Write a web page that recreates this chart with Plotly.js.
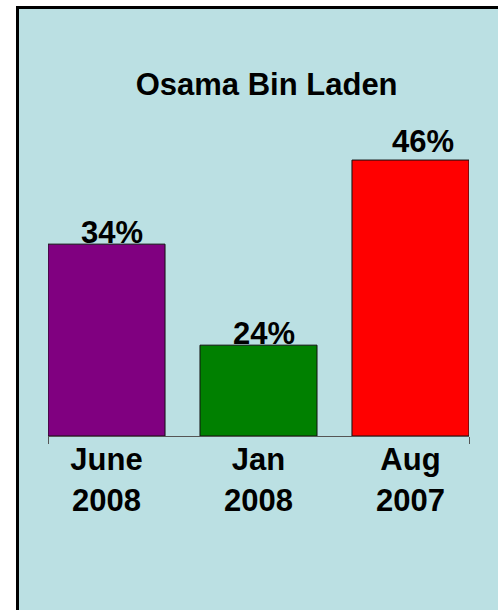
<!DOCTYPE html>
<html>
<head>
<meta charset="utf-8">
<script src="https://cdn.plot.ly/plotly-3.0.1.min.js"></script>
<style>
  html, body { margin: 0; padding: 0; background: #ffffff; }
  #wrap { position: relative; width: 498px; height: 610px; background: #ffffff; overflow: hidden; }
  #frame { position: absolute; left: 16px; top: 6px; width: 479px; height: 601px;
           border-left: 3px solid #000; border-top: 3px solid #000; background: #BBE0E3; }
  #chart { width: 479px; height: 601px; }
</style>
</head>
<body>
<div id="wrap"><div id="frame"><div id="chart"></div></div></div>
<script>
// Data
const categories = ['June<br>2008', 'Jan<br>2008', 'Aug<br>2007'];
const percentValues = [34, 24, 46];            // printed labels
const barHeights = [34, 16.1, 48.9];           // bar lengths as drawn (same scale as the 34% bar)
const barColors = ['#800080', '#008000', '#FF0000'];
const chartTitle = 'Osama Bin Laden';

const FONT = 'Liberation Sans, Arial, Helvetica, sans-serif';
const idx = categories.map((c, i) => i);

const trace = {
  type: 'bar',
  x: idx,
  y: barHeights,
  width: 0.77,
  marker: { color: barColors, line: { color: '#111111', width: 1 } },
  hoverinfo: 'skip',
  showlegend: false
};
// invisible trace for the second (tick-only) axis
const tickTrace = { type: 'scatter', x: [0], y: [0], xaxis: 'x2', yaxis: 'y', mode: 'markers',
  marker: { opacity: 0 }, hoverinfo: 'skip', showlegend: false };

const labelXShift = [5, 5, 13];
const labelYShift = [-8, -8, -1];
const annotations = percentValues.map((v, i) => ({
  x: idx[i], y: barHeights[i], xref: 'x', yref: 'y',
  text: v + '%', showarrow: false, yanchor: 'bottom', xanchor: 'center',
  xshift: labelXShift[i], yshift: labelYShift[i],
  font: { family: FONT, size: 31, color: '#000', weight: 'bold' }
}));

const xr = [-0.385, 2.385];
const layout = {
  width: 479, height: 601,
  margin: { l: 29, r: 29, t: 111, b: 174, pad: 0 },
  paper_bgcolor: '#BBE0E3',
  plot_bgcolor: 'rgba(0,0,0,0)',
  title: {
    text: chartTitle,
    font: { family: FONT, size: 31, color: '#000', weight: 'bold' },
    xref: 'container', yref: 'container',
    x: 0.517, xanchor: 'center',
    y: 0.893, yanchor: 'top'
  },
  xaxis: {
    range: xr, tickmode: 'array', tickvals: idx, ticktext: categories,
    showline: true, linecolor: '#555555', linewidth: 1,
    ticks: '', showgrid: false, zeroline: false, fixedrange: true,
    ticklabelstandoff: -4,
    tickfont: { family: FONT, size: 31, color: '#000', weight: 'bold' }
  },
  xaxis2: {
    range: xr, overlaying: 'x', anchor: 'y', side: 'bottom',
    tickmode: 'array', tickvals: xr, ticktext: ['', ''],
    ticks: 'outside', ticklen: 7, tickcolor: '#555555', tickwidth: 1,
    showline: false, showgrid: false, zeroline: false, showticklabels: false
  },
  yaxis: {
    range: [0, 56], visible: false, showgrid: false, zeroline: false, fixedrange: true
  },
  annotations: annotations,
  bargap: 0
};

Plotly.newPlot('chart', [trace, tickTrace], layout, { displayModeBar: false, staticPlot: true });
</script>
</body>
</html>
